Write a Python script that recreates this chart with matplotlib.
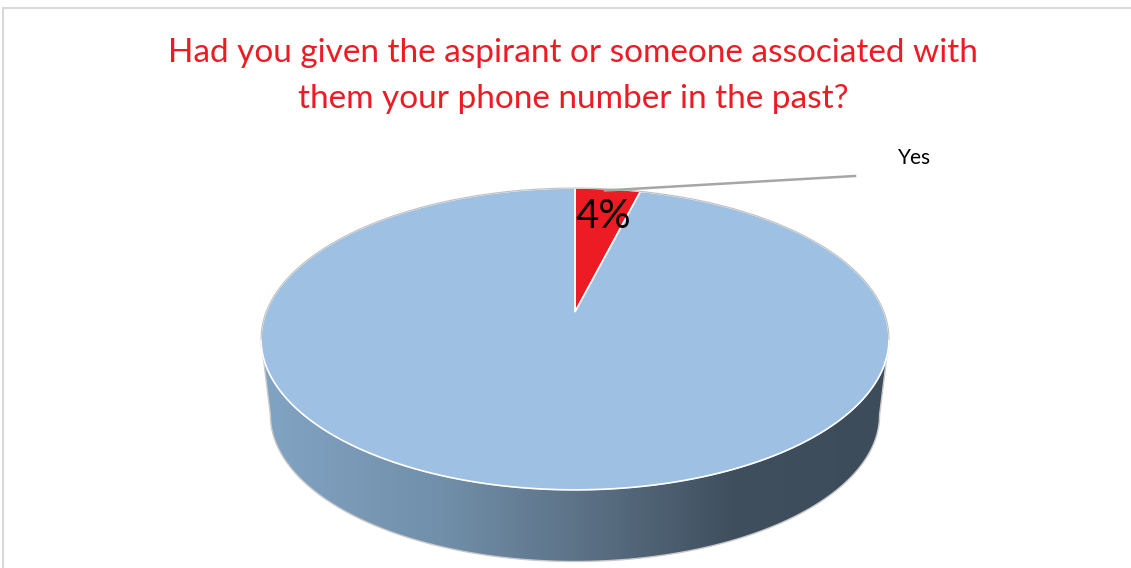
import numpy as np
import matplotlib.pyplot as plt
from matplotlib.patches import Polygon
from matplotlib.colors import LinearSegmentedColormap

# Survey answers
labels = ['Yes', 'No']
values = [4, 96]
slice_colors = ['#ED1C24', '#9DC0E3']
title_lines = ['Had you given the aspirant or someone associated with',
               'them your phone number in the past?']

W, H = 1131, 568
plt.rcParams['font.family'] = ['Lato', 'DejaVu Sans']

# simple perspective model of a tilted disc (pixel coordinates)
cx, cy0 = 575.0, 312.0
d, f, g = 5.6, 1730.0, 818.0
shrink, depth = 0.97, 77.0


def proj(theta, bottom=False):
    X, Z = np.sin(theta), np.cos(theta)
    x = cx + f * X / (d + Z)
    y = cy0 - g * Z / (d + Z)
    if bottom:
        x = cx + shrink * (x - cx)
        y = cy0 + shrink * (y - cy0) + depth
    return x, y


fig = plt.figure(figsize=(W / 100, H / 100), dpi=100)
ax = fig.add_axes([0, 0, 1, 1])
ax.set_xlim(0, W)
ax.set_ylim(H, 0)
ax.axis('off')

# chart frame
ax.plot([3, W], [7.5, 7.5], color='#D9D9D9', lw=1.5)
ax.plot([3, 3], [7.5, H], color='#D9D9D9', lw=1.5)

# --- side wall (front half) ---
tt = np.linspace(0, 2 * np.pi, 4000)
xs, ys = proj(tt)
t_right = tt[np.argmax(xs)]
t_left = tt[np.argmin(xs)]
tf = np.linspace(t_right, t_left, 400)
xt, yt = proj(tf)
xb, yb = proj(tf[::-1], bottom=True)
side_pts = np.column_stack([np.r_[xt, xb], np.r_[yt, yb]])
side = Polygon(side_pts, closed=True, facecolor='none',
               edgecolor='#C8C8C8', lw=1, zorder=2)
ax.add_patch(side)

side_cmap = LinearSegmentedColormap.from_list('side', [
    (0.00, (130 / 255, 164 / 255, 196 / 255)),
    (0.30, (112 / 255, 142 / 255, 168 / 255)),
    (0.55, (88 / 255, 108 / 255, 128 / 255)),
    (0.75, (63 / 255, 79 / 255, 94 / 255)),
    (1.00, (61 / 255, 76 / 255, 91 / 255)),
])
grad = np.linspace(0, 1, 512).reshape(1, -1)
x0, x1 = side_pts[:, 0].min(), side_pts[:, 0].max()
y0, y1 = side_pts[:, 1].min(), side_pts[:, 1].max()
im = ax.imshow(grad, cmap=side_cmap, aspect='auto',
               extent=[x0, x1, y1, y0], zorder=1)
im.set_clip_path(side)

# --- top face wedges ---
fracs = np.array(values, dtype=float) / sum(values)
starts = np.r_[0, np.cumsum(fracs)[:-1]] * 2 * np.pi
for frac, start, col in zip(fracs, starts, slice_colors):
    th = np.linspace(start, start + frac * 2 * np.pi, 600)
    px, py = proj(th)
    pts = np.column_stack([np.r_[cx, px], np.r_[cy0, py]])
    ax.add_patch(Polygon(pts, closed=True, facecolor=col,
                         edgecolor='white', lw=1.2, zorder=3))

# thin grey rim on the far edge of the top face
tb = np.linspace(t_left, t_right + 2 * np.pi, 600)
rx, ry = proj(tb)
ax.plot(rx, ry, color='#C0C0C0', lw=0.8, zorder=4)

# labels
ax.text(603, 216, f'{values[0]}%', fontsize=29, color='black',
        ha='center', va='center', zorder=5)
ax.plot([605, 855], [190.5, 176], color='#A6A6A6', lw=1.8, zorder=5)
ax.text(915, 158, labels[0], fontsize=15, color='black',
        ha='center', va='center', zorder=5)

ax.text(573, 53, title_lines[0], fontsize=24, color='#ED1C24',
        ha='center', va='center')
ax.text(573, 99, title_lines[1], fontsize=24, color='#ED1C24',
        ha='center', va='center')

fig.savefig('out.png', dpi=100)
